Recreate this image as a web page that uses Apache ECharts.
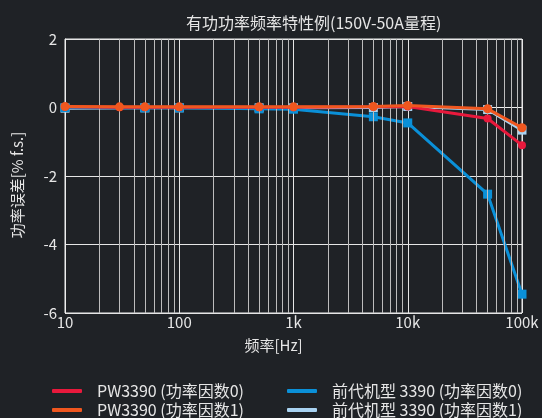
<!DOCTYPE html>
<html>
<head>
<meta charset="utf-8">
<script src="https://cdn.jsdelivr.net/npm/echarts@6/dist/echarts.min.js"></script>
<style>
html,body{margin:0;padding:0;background:#1f2226;}
#c{width:542px;height:418px;}
</style>
</head>
<body>
<div id="c"></div>
<script>
// ---- data ----
const freqPW = [10, 30, 50, 100, 500, 1000, 5000, 10000, 50000, 100000];
const pwPF0 = [0.02, 0.01, 0.01, 0.01, 0.01, 0.01, 0.02, 0.03, -0.32, -1.10];
const pwPF1 = [0.03, 0.02, 0.02, 0.02, 0.02, 0.02, 0.03, 0.06, -0.04, -0.59];
const freqOld = [10, 50, 100, 500, 1000, 5000, 10000, 50000, 100000];
const oldPF0 = [0.0, -0.01, -0.01, -0.04, -0.05, -0.27, -0.45, -2.53, -5.45];
const oldPF1 = [-0.02, -0.01, -0.01, -0.01, -0.01, 0.0, 0.03, -0.06, -0.66];
const xTickValues = [10, 100, 1000, 10000, 100000];
const xTickLabels = ['10', '100', '1k', '10k', '100k'];
const yTicks = [-6, -4, -2, 0, 2];
const names = ['PW3390 (功率因数0)', 'PW3390 (功率因数1)', '前代机型 3390 (功率因数0)', '前代机型 3390 (功率因数1)'];
const decades = [10, 100, 1000, 10000];
const minorMult = [2, 3, 4, 5, 6, 7, 8, 9];

const pair = (xs, ys) => xs.map((x, i) => [x, ys[i]]);
const minorLines = [];
decades.forEach(d => minorMult.forEach(m => minorLines.push({ xAxis: d * m })));

const FONT = "'Noto Sans CJK SC', 'Noto Sans', sans-serif";
const TXT = '#e6e6e6';

const legendBase = {
  orient: 'vertical', top: 383, height: 60, width: 250, padding: 0, itemGap: 3,
  icon: 'roundRect', itemWidth: 30, itemHeight: 4,
  textStyle: { color: TXT, fontSize: 16, fontFamily: FONT, padding: [0, 0, 0, 10] }
};

const chart = echarts.init(document.getElementById('c'), null, { renderer: 'canvas' });
chart.setOption({
  backgroundColor: '#1f2226',
  textStyle: { fontFamily: FONT },
  animation: false,
  title: {
    text: '有功功率频率特性例(150V-50A量程)',
    left: 181, top: 10,
    textStyle: { color: TXT, fontSize: 16, fontWeight: 'normal', fontFamily: FONT }
  },
  grid: { left: 65, right: 20, top: 39, bottom: 105, show: true, borderColor: '#eeeeee', borderWidth: 1, containLabel: false },
  legend: [
    Object.assign({}, legendBase, { data: [names[0], names[1]], left: 52 }),
    Object.assign({}, legendBase, { data: [names[2], names[3]], left: 287 })
  ],
  xAxis: {
    type: 'log', logBase: 10, min: 10, max: 100000,
    name: '频率[Hz]', nameLocation: 'middle', nameGap: 25,
    nameTextStyle: { color: TXT, fontSize: 15, fontFamily: FONT, padding: [0, 40, 0, 0] },
    axisLine: { show: true, lineStyle: { color: '#eeeeee', width: 1 } },
    axisTick: { show: false },
    axisLabel: {
      color: TXT, fontSize: 15, fontFamily: FONT, margin: 2,
      formatter: v => { const i = xTickValues.indexOf(Math.round(v)); return i >= 0 ? xTickLabels[i] : ''; }
    },
    splitLine: { show: true, lineStyle: { color: '#e6e6e6', width: 1 } }
  },
  yAxis: {
    type: 'value', min: yTicks[0], max: yTicks[yTicks.length - 1], interval: 2,
    name: '功率误差[% f.s.]', nameLocation: 'middle', nameGap: 40,
    nameTextStyle: { color: TXT, fontSize: 15, fontFamily: FONT, padding: [0, 18, 0, 0] },
    axisLine: { show: true, lineStyle: { color: '#eeeeee', width: 1 } },
    axisTick: { show: false },
    axisLabel: { color: TXT, fontSize: 15, fontFamily: FONT, margin: 8 },
    splitLine: { show: true, lineStyle: { color: '#e6e6e6', width: 1 } }
  },
  series: [
    {
      name: 'minor-grid', type: 'line', data: [], z: 1, silent: true,
      markLine: {
        silent: true, symbol: ['none', 'none'], label: { show: false },
        lineStyle: { color: '#bdbdbd', width: 1, type: 'solid' },
        emphasis: { disabled: true },
        data: minorLines, animation: false
      }
    },
    {
      name: names[3], type: 'line', data: pair(freqOld, oldPF1), z: 3,
      symbol: 'rect', symbolSize: 9, color: '#a9d3f2',
      lineStyle: { width: 3, color: '#a9d3f2' }, itemStyle: { color: '#a9d3f2' }
    },
    {
      name: names[2], type: 'line', data: pair(freqOld, oldPF0), z: 4,
      symbol: 'rect', symbolSize: 9, color: '#0a90d8',
      lineStyle: { width: 3, color: '#0a90d8' }, itemStyle: { color: '#0a90d8' }
    },
    {
      name: names[0], type: 'line', data: pair(freqPW, pwPF0), z: 5,
      symbol: 'circle', symbolSize: 8, color: '#e8193c',
      lineStyle: { width: 3, color: '#e8193c' }, itemStyle: { color: '#e8193c' }
    },
    {
      name: names[1], type: 'line', data: pair(freqPW, pwPF1), z: 6,
      symbol: 'circle', symbolSize: 9, color: '#f0571f',
      lineStyle: { width: 3, color: '#f0571f' }, itemStyle: { color: '#f0571f' }
    }
  ]
});
</script>
</body>
</html>
